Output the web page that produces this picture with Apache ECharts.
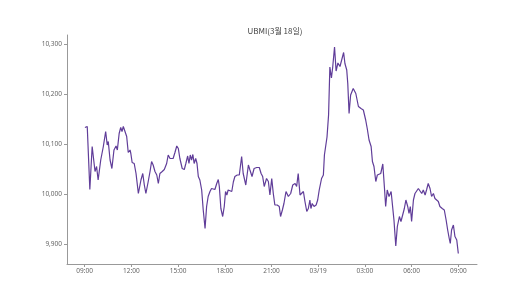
<!DOCTYPE html>
<html>
<head>
<meta charset="utf-8">
<script src="https://cdn.jsdelivr.net/npm/echarts@6/dist/echarts.min.js"></script>
<style>html,body{margin:0;padding:0;background:#fff}#c{width:530px;height:297px}</style>
</head>
<body>
<div id="c"></div>
<script>
const title = 'UBMI(3월 18일)';
// minutes since 03/18 09:00
const minutes = [1,10,20,29,40,46,52,62,68,72,81,87,91,98,105,113,121,126,133,139,144,149,155,162,168,175,178,183,191,198,207,217,224,230,236,245,252,258,264,271,278,284,290,299,307,316,322,329,335,341,348,355,361,367,376,384,390,397,402,407,412,417,422,428,433,438,444,451,457,464,470,476,483,489,496,502,509,515,519,525,532,538,543,548,553,560,567,573,579,588,596,605,611,621,631,637,645,653,663,673,680,686,692,701,708,714,721,727,733,742,750,755,762,768,776,785,794,802,811,817,823,830,836,843,849,856,862,868,872,877,884,892,898,904,913,920,924,930,934,940,945,951,956,963,969,976,984,991,998,1003,1010,1014,1019,1025,1035,1045,1051,1055,1065,1074,1083,1089,1096,1100,1104,1109,1115,1122,1128,1134,1141,1149,1155,1160,1166,1173,1181,1186,1192,1199,1205,1213,1219,1226,1232,1238,1245,1250,1255,1260,1267,1273,1280,1286,1292,1299,1305,1312,1318,1324,1331,1337,1344,1350,1357,1363,1369,1378,1386,1393,1399,1405,1409,1414,1421,1427,1434,1440];
const values = [10133,10135,10009,10095,10045,10055,10028,10068,10065,10095,10125,10098,10105,10068,10051,10088,10096,10088,10121,10133,10125,10135,10133,10115,10083,10088,10081,10063,10061,10041,10001,10028,10041,10018,10001,10025,10045,10065,10058,10045,10038,10021,10041,10045,10049,10061,10078,10071,10075,10071,10083,10096,10091,10071,10051,10049,10061,10076,10061,10078,10068,10079,10061,10071,10061,10035,10028,10008,9968,9931,9975,9995,10005,10011,10013,10009,10021,10029,10015,9971,9955,9975,10005,9998,10008,10010,10005,10024,10035,10038,10038,10075,10041,10018,10058,10048,10035,10051,10053,10053,10041,10035,10015,10031,10025,9998,10031,10001,9978,9978,9975,9955,9968,9981,10005,9995,10001,10018,10021,10015,10041,9998,9995,10005,9985,9965,9971,9988,9971,9981,9975,9978,9988,10008,10031,10038,10078,10081,10114,10158,10254,10232,10254,10294,10246,10262,10255,10258,10283,10261,10248,10221,10161,10198,10211,10201,10200,10175,10171,10168,10148,10131,10108,10111,10095,10065,10055,10025,10038,10035,10041,10060,10015,9975,10008,9995,10005,10001,9948,9896,9935,9955,9945,9948,9971,9988,9975,9961,9975,9945,9988,10001,9998,10011,10008,10001,10008,9998,10009,10021,10011,9995,10001,9991,9995,9985,9975,9971,9968,9948,9928,9911,9901,9928,9938,9915,9908,9881];
const xTickMinutes = [0,180,360,540,720,900,1080,1260,1440];
const xTickLabels = ['09:00','12:00','15:00','18:00','21:00','03/19','03:00','06:00','09:00'];
const yTicks = [9900,10000,10100,10200,10300];

const data = minutes.map((m, i) => [m, values[i]]);
const fmt = v => String(v).replace(/\B(?=(\d{3})+(?!\d))/g, ',');
const chart = echarts.init(document.getElementById('c'), null, {renderer: 'canvas'});
chart.setOption({
  animation: false,
  backgroundColor: '#ffffff',
  title: {
    text: title, left: 270, top: 22, textAlign: 'center',
    textStyle: {fontFamily: 'Noto Sans CJK KR', fontSize: 8, fontWeight: 'normal', color: '#444'}
  },
  grid: {left: 67, right: 53, top: 35, bottom: 33},
  xAxis: {
    type: 'value', min: -68, max: 1512,
    axisLine: {show: true, onZero: false, lineStyle: {color: '#999', width: 1}},
    axisTick: {show: true, length: 3, lineStyle: {color: '#999'}, customValues: xTickMinutes},
    axisLabel: {
      customValues: xTickMinutes, margin: 4, fontSize: 6.5, color: '#666', fontFamily: 'Noto Sans',
      formatter: v => xTickLabels[xTickMinutes.indexOf(v)] || ''
    },
    splitLine: {show: false}
  },
  yAxis: {
    type: 'value', min: 9860, max: 10318,
    axisLine: {show: true, onZero: false, lineStyle: {color: '#999', width: 1}},
    axisTick: {show: true, length: 3, lineStyle: {color: '#999'}, customValues: yTicks},
    axisLabel: {customValues: yTicks, margin: 5, fontSize: 6.5, color: '#666', fontFamily: 'Noto Sans', formatter: v => fmt(v)},
    splitLine: {show: false}
  },
  series: [{
    type: 'line', data: data, showSymbol: false, symbol: 'none',
    lineStyle: {color: '#603d99', width: 1.2}
  }]
});
</script>
</body>
</html>
